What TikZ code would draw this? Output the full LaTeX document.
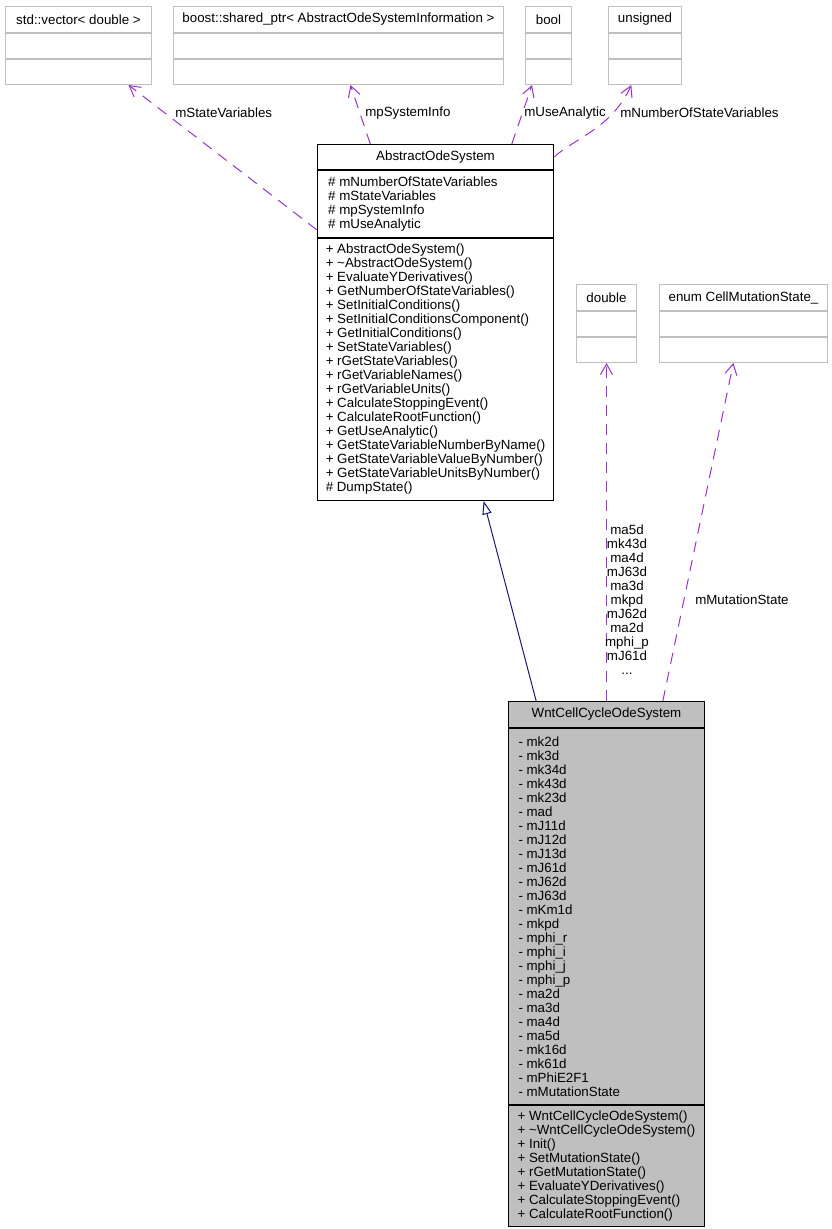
\documentclass[tikz,border=0pt]{standalone}
\usepackage{fontspec}
\setmainfont{Liberation Sans}
\usepackage{xcolor}
\usepackage{tikz}
\usetikzlibrary{positioning,calc,arrows.meta}
\definecolor{DoxFrame}{HTML}{BFBFBF}
\definecolor{DoxGrey}{HTML}{BFBFBF}
\definecolor{DoxPurple}{HTML}{9A32CD}
\definecolor{DoxNavy}{HTML}{191970}

\tikzset{
  ctitle/.style={draw=DoxFrame,line width=0.75pt,inner sep=0pt,minimum height=19.5pt,font=\fontsize{10}{10.5}\selectfont},
  cpart/.style={draw=DoxFrame,line width=0.75pt,inner sep=0pt,minimum height=18.75pt},
  cbody/.style={draw=black,line width=0.75pt,inner sep=0pt,align=left,font=\fontsize{10}{10.5}\selectfont},
  member/.style={DoxPurple,line width=0.75pt,dash pattern=on 8.25pt off 6pt,-{Straight Barb[length=8pt,width=9pt]}},
  inherit/.style={DoxNavy,line width=0.75pt,-{Triangle[open,length=10pt,width=7pt,fill=white]}},
  elab/.style={inner sep=0pt,font=\fontsize{10}{10.5}\selectfont}
}

\begin{document}
\begin{tikzpicture}[x=0.75pt,y=-0.75pt]
\useasboundingbox (0,0) rectangle (832,1229);

% plain classes, nothing listed
\foreach \n/\x/\y/\w/\lab in {vec/5/6/109.5pt/{std::vector< double >},
    boost/173/6/247.5pt/{boost::shared\_ptr< AbstractOdeSystemInformation >},
    bool/525/6/34.5pt/bool, uns/608/6/54.75pt/unsigned,
    dbl/576/284/45pt/double, enum/659/284/126pt/{enum CellMutationState\_}} {
  \node[ctitle,minimum width=\w,anchor=north west] (\n) at (\x,\y) {\lab};
  \node[cpart,minimum width=\w,below=0pt of \n] (\n-a) {};
  \node[cpart,minimum width=\w,below=0pt of \n-a] (\n-m) {};
}

% base class
\node[cbody,fill=white,minimum width=177pt,minimum height=18.75pt,anchor=north west] (abs) at (317,144) {AbstractOdeSystem};
\node[cbody,fill=white,minimum width=177pt,minimum height=50.25pt,below=0pt of abs] (abs-a) {\makebox[161pt][l]{\# mNumberOfStateVariables}\\\# mStateVariables\\\# mpSystemInfo\\\# mUseAnalytic};
\node[cbody,fill=white,minimum width=177pt,minimum height=196.5pt,below=0pt of abs-a] (abs-m) {\makebox[161pt][l]{+ AbstractOdeSystem()}\\+ \textasciitilde AbstractOdeSystem()\\+ EvaluateYDerivatives()\\+ GetNumberOfStateVariables()\\+ SetInitialConditions()\\+ SetInitialConditionsComponent()\\+ GetInitialConditions()\\+ SetStateVariables()\\+ rGetStateVariables()\\+ rGetVariableNames()\\+ rGetVariableUnits()\\+ CalculateStoppingEvent()\\+ CalculateRootFunction()\\+ GetUseAnalytic()\\+ GetStateVariableNumberByName()\\+ GetStateVariableValueByNumber()\\+ GetStateVariableUnitsByNumber()\\\# DumpState()};

% derived class
\node[cbody,fill=DoxGrey,minimum width=147pt,minimum height=19.5pt,anchor=north west] (wnt) at (508,701) {WntCellCycleOdeSystem};
\node[cbody,fill=DoxGrey,minimum width=147pt,minimum height=282pt,below=0pt of wnt] (wnt-a) {\makebox[132pt][l]{- mk2d}\\- mk3d\\- mk34d\\- mk43d\\- mk23d\\- mad\\- mJ11d\\- mJ12d\\- mJ13d\\- mJ61d\\- mJ62d\\- mJ63d\\- mKm1d\\- mkpd\\- mphi\_r\\- mphi\_i\\- mphi\_j\\- mphi\_p\\- ma2d\\- ma3d\\- ma4d\\- ma5d\\- mk16d\\- mk61d\\- mPhiE2F1\\- mMutationState};
\node[cbody,fill=DoxGrey,minimum width=147pt,minimum height=90.75pt,below=0pt of wnt-a] (wnt-m) {\makebox[132pt][l]{+ WntCellCycleOdeSystem()}\\+ \textasciitilde WntCellCycleOdeSystem()\\+ Init()\\+ SetMutationState()\\+ rGetMutationState()\\+ EvaluateYDerivatives()\\+ CalculateStoppingEvent()\\+ CalculateRootFunction()};

% members of AbstractOdeSystem
\draw[member] ($(abs-a.south west)+(0,-8)$) -- ($(vec-m.south west)!0.84!(vec-m.south east)$);
\draw[member] ($(abs.north west)!0.225!(abs.north east)$) -- ($(boost-m.south west)!0.536!(boost-m.south east)$);
\draw[member] ($(abs.north west)!0.822!(abs.north east)$) -- ($(bool-m.south west)!0.15!(bool-m.south east)$);
\draw[member] (abs.east) .. controls (575,138) and (612,128) .. ($(uns-m.south west)!0.315!(uns-m.south east)$);
\node[elab,anchor=west] (l-state) at (175,113) {mStateVariables};
\node[elab,anchor=west] (l-info) at (365,113) {mpSystemInfo};
\node[elab,anchor=west] (l-use) at (524,113) {mUseAnalytic};
\node[elab,anchor=west] (l-num) at (620,113) {mNumberOfStateVariables};

% WntCellCycleOdeSystem
\draw[inherit] ($(wnt.north west)!0.143!(wnt.north east)$) -- ($(abs-m.south west)!0.703!(abs-m.south east)$);
\draw[member] (wnt.north) -- (dbl-m.south);
\draw[member] ($(wnt.north west)!0.786!(wnt.north east)$) -- ($(enum-m.south west)!0.44!(enum-m.south east)$);
\node[elab,align=center] (l-dbl) at (627,600) {ma5d\\mk43d\\ma4d\\mJ63d\\ma3d\\mkpd\\mJ62d\\ma2d\\mphi\_p\\mJ61d\\...};
\node[elab,anchor=west] (l-mut) at (695,600) {mMutationState};
\end{tikzpicture}
\end{document}
